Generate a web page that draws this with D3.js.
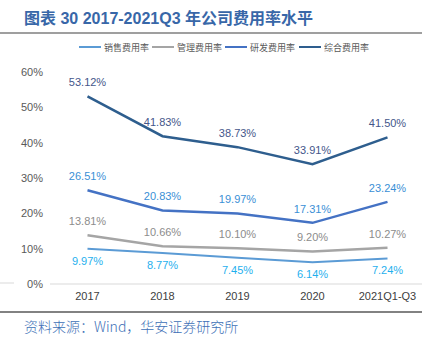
<!DOCTYPE html>
<html><head><meta charset="utf-8">
<script src="https://cdn.jsdelivr.net/npm/d3@7"></script>
<style>body{margin:0;background:#fff;}svg{display:block;}</style>
</head><body>
<svg id="c" width="433" height="337"></svg>
<script>
const categories = ["2017","2018","2019","2020","2021Q1-Q3"];
const seriesNames = ["销售费用率","管理费用率","研发费用率","综合费用率"];
const sales = [9.97, 8.77, 7.45, 6.14, 7.24];
const admin = [13.81, 10.66, 10.10, 9.20, 10.27];
const rnd = [26.51, 20.83, 19.97, 17.31, 23.24];
const total = [53.12, 41.83, 38.73, 33.91, 41.50];
const yTicks = [0, 10, 20, 30, 40, 50, 60];

const lineColors = ["#5B9BD5", "#A5A5A5", "#4472C4", "#2E5E8E"];
const labelColors = ["#1FB0EE", "#8C8C8C", "#3A8FD6", "#44568A"];
const labelAbove = [false, true, true, true];
const widths = [2, 2.5, 2.5, 2.5];
const data = [sales, admin, rnd, total];

const svg = d3.select("#c");
const x = d3.scaleBand().domain(categories).range([50, 425]);
const y = d3.scaleLinear().domain([0, 60]).range([284, 72]);

// title
svg.append("text").attr("x", 24).attr("y", 24)
  .attr("font-family", "Liberation Sans, Noto Sans CJK SC, sans-serif")
  .attr("font-weight", "bold").attr("font-size", 16).attr("fill", "#3867A8")
  .text("图表 30 2017-2021Q3 年公司费用率水平");
svg.append("line").attr("x1", 0).attr("x2", 422).attr("y1", 33).attr("y2", 33)
  .attr("stroke", "#7F7F7F").attr("stroke-width", 1.5);

// legend
const legX = [79, 152, 225, 299];
seriesNames.forEach((n, i) => {
  svg.append("line").attr("x1", legX[i]).attr("x2", legX[i] + 22).attr("y1", 47).attr("y2", 47)
    .attr("stroke", lineColors[i]).attr("stroke-width", 2);
  svg.append("text").attr("x", legX[i] + 25).attr("y", 50.5)
    .attr("font-family", "Noto Sans CJK SC, sans-serif").attr("font-size", 9)
    .attr("fill", "#595959").text(n);
});

// y axis labels
svg.append("g").selectAll("text").data(yTicks).join("text")
  .attr("x", 43).attr("y", d => y(d) + 4).attr("text-anchor", "end")
  .attr("font-family", "Liberation Sans, Arial, sans-serif").attr("font-size", 11)
  .attr("fill", "#595959").text(d => d + "%");

// baseline
svg.append("line").attr("x1", 50).attr("x2", 422).attr("y1", y(0)).attr("y2", y(0))
  .attr("stroke", "#D9D9D9").attr("stroke-width", 1);
svg.append("line").attr("x1", 0).attr("x2", 14).attr("y1", y(0) - 1).attr("y2", y(0) - 1)
  .attr("stroke", "#D9D9D9").attr("stroke-width", 1);

// x labels
svg.append("g").selectAll("text").data(categories).join("text")
  .attr("x", d => x(d) + x.bandwidth() / 2).attr("y", 300).attr("text-anchor", "middle")
  .attr("font-family", "Liberation Sans, Arial, sans-serif").attr("font-size", 11)
  .attr("fill", "#404040").text(d => d);

// lines
const line = d3.line().x((d, i) => x(categories[i]) + x.bandwidth() / 2).y(d => y(d));
data.forEach((s, k) => {
  svg.append("path").datum(s).attr("d", line).attr("fill", "none")
    .attr("stroke", lineColors[k]).attr("stroke-width", widths[k]);
  svg.append("g").selectAll("text").data(s).join("text")
    .attr("x", (d, i) => x(categories[i]) + x.bandwidth() / 2)
    .attr("y", d => labelAbove[k] ? y(d) - 10 : y(d) + 16)
    .attr("text-anchor", "middle")
    .attr("font-family", "Liberation Sans, Arial, sans-serif").attr("font-size", 11)
    .attr("fill", labelColors[k]).text(d => d.toFixed(2) + "%");
});

// bottom rule + source
svg.append("line").attr("x1", 0).attr("x2", 422).attr("y1", 312).attr("y2", 312)
  .attr("stroke", "#595959").attr("stroke-width", 1.5);
svg.append("text").attr("x", 24).attr("y", 332)
  .attr("font-family", "Noto Sans CJK SC, sans-serif").attr("font-size", 14)
  .attr("font-weight", 300)
  .attr("fill", "#3D6FB6").text("资料来源：Wind，华安证券研究所");
</script>
</body></html>
